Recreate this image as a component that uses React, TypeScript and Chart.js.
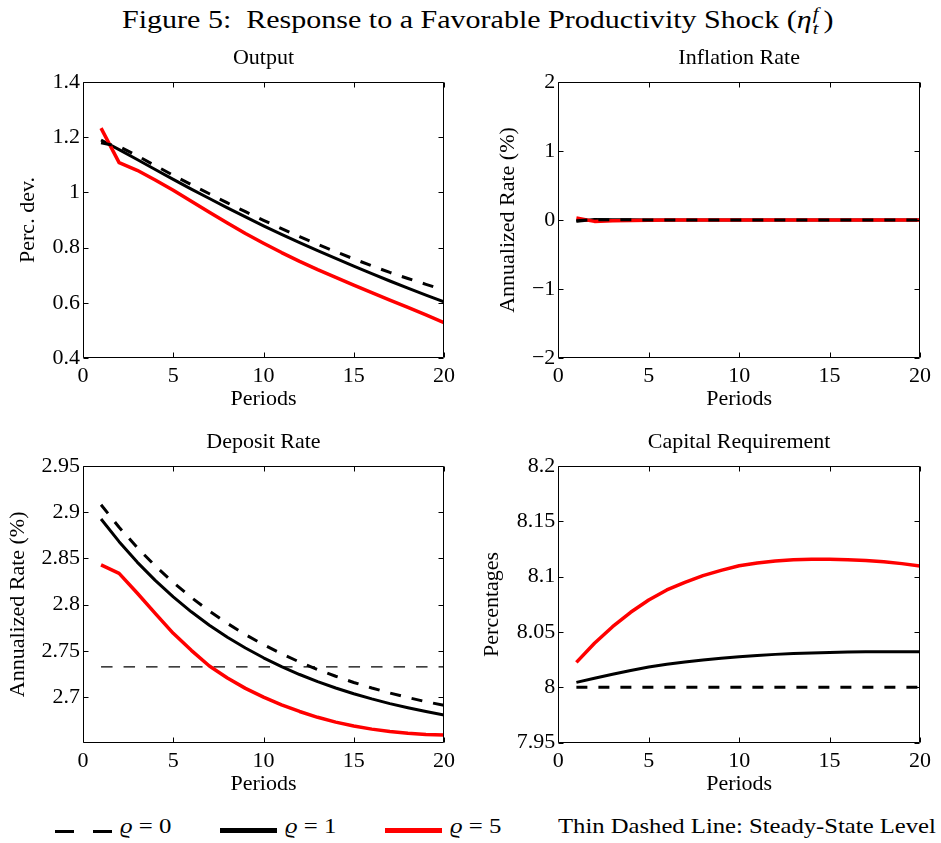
import React, { useEffect, useLayoutEffect, useRef } from "react";
import { Chart, registerables } from "chart.js";

Chart.register(...registerables);

const SERIF = '"Liberation Serif", "Times New Roman", Times, serif';

// ---------- data ----------
const periods = [1, 2, 3, 4, 5, 6, 7, 8, 9, 10, 11, 12, 13, 14, 15, 16, 17, 18, 19, 20];

const outputRho0 = [1.18, 1.166, 1.133, 1.097, 1.062, 1.028, 0.995, 0.962, 0.93, 0.899, 0.869, 0.84, 0.812, 0.785, 0.759, 0.734, 0.71, 0.688, 0.667, 0.646];
const outputRho1 = [1.19, 1.155, 1.119, 1.083, 1.047, 1.012, 0.978, 0.944, 0.911, 0.879, 0.848, 0.818, 0.789, 0.761, 0.733, 0.706, 0.679, 0.653, 0.628, 0.603];
const outputRho5 = [1.233, 1.108, 1.08, 1.045, 1.008, 0.968, 0.928, 0.889, 0.851, 0.816, 0.782, 0.75, 0.72, 0.692, 0.664, 0.637, 0.61, 0.583, 0.556, 0.528];

const inflationRho0 = [-0.01, 0.004, 0.003, 0.002, 0.001, 0, 0, 0, 0, 0, 0, 0, 0, 0, 0, 0, 0, 0, 0, 0];
const inflationRho1 = [-0.02, 0.006, 0.004, 0.002, 0.001, 0, 0, 0, 0, 0, 0, 0, 0, 0, 0, 0, 0, 0, 0, 0];
const inflationRho5 = [0.03, -0.02, -0.012, -0.006, -0.003, -0.001, 0, 0, 0, 0, 0, 0, 0, 0, 0, 0, 0, 0, 0, 0];
const inflationSteady = [0, 0, 0, 0, 0, 0, 0, 0, 0, 0, 0, 0, 0, 0, 0, 0, 0, 0, 0, 0];

const depositRho0 = [2.908, 2.8837, 2.8618, 2.8419, 2.8239, 2.8077, 2.7929, 2.7796, 2.7675, 2.7566, 2.7467, 2.7378, 2.7297, 2.7224, 2.7157, 2.7097, 2.7043, 2.6994, 2.6949, 2.6909];
const depositRho1 = [2.8926, 2.8681, 2.846, 2.8262, 2.8083, 2.7922, 2.7777, 2.7647, 2.753, 2.7424, 2.7329, 2.7243, 2.7166, 2.7097, 2.7035, 2.6979, 2.6928, 2.6883, 2.6842, 2.6805];
const depositRho5 = [2.8429, 2.8338, 2.8125, 2.7905, 2.7689, 2.7505, 2.7335, 2.7205, 2.7093, 2.6998, 2.6915, 2.6843, 2.678, 2.6728, 2.6686, 2.6652, 2.6626, 2.6607, 2.6594, 2.6587];
const depositSteady = [2.7325, 2.7325, 2.7325, 2.7325, 2.7325, 2.7325, 2.7325, 2.7325, 2.7325, 2.7325, 2.7325, 2.7325, 2.7325, 2.7325, 2.7325, 2.7325, 2.7325, 2.7325, 2.7325, 2.7325];

const capitalRho0 = [8, 8, 8, 8, 8, 8, 8, 8, 8, 8, 8, 8, 8, 8, 8, 8, 8, 8, 8, 8];
const capitalRho1 = [8.0045, 8.0082, 8.0118, 8.0153, 8.0184, 8.0209, 8.023, 8.0248, 8.0263, 8.0276, 8.0288, 8.0298, 8.0305, 8.0311, 8.0316, 8.0319, 8.0321, 8.0322, 8.0322, 8.0322];
const capitalRho5 = [8.0226, 8.0398, 8.0548, 8.0678, 8.0789, 8.088, 8.0949, 8.1009, 8.1057, 8.1099, 8.1124, 8.1142, 8.1153, 8.1158, 8.1158, 8.1154, 8.1146, 8.1134, 8.1118, 8.1096];

const xTicks = [0, 5, 10, 15, 20];
const outputTicks = [0.4, 0.6, 0.8, 1, 1.2, 1.4];
const inflationTicks = [-2, -1, 0, 1, 2];
const depositTicks = [2.7, 2.75, 2.8, 2.85, 2.9, 2.95];
const capitalTicks = [7.95, 8, 8.05, 8.1, 8.15, 8.2];

const legendLabels = ["0", "1", "5"];
const steadyStateNote = "Thin Dashed Line: Steady-State Level";

// ---------- helpers ----------
const fmt = (v: number) => String(parseFloat(Number(v).toFixed(3))).replace("-", "\u2212");

const toPoints = (ys: number[]) => periods.map((x, i) => ({ x, y: ys[i] }));

type Series = { data: number[]; kind: "rho0" | "rho1" | "rho5" | "steady" };

const styleFor = (kind: Series["kind"]) => {
  switch (kind) {
    case "rho0":
      return { borderColor: "#000", borderWidth: 3, borderDash: [11, 11], order: 0 };
    case "rho5":
      return { borderColor: "#ff0000", borderWidth: 3.5, borderDash: [], order: 1 };
    case "rho1":
      return { borderColor: "#000", borderWidth: 3, borderDash: [], order: 2 };
    default:
      return { borderColor: "#000", borderWidth: 1.3, borderDash: [11.5, 11], order: 3 };
  }
};

const boxPlugin = {
  id: "matlabBox",
  afterDraw(chart: any) {
    const { ctx, chartArea: a, scales } = chart;
    const p = (v: number) => Math.round(v) + 0.5;
    const L = p(a.left), R = p(a.right - 1), T = p(a.top), B = p(a.bottom - 1);
    ctx.save();
    ctx.strokeStyle = "#000";
    ctx.lineWidth = 1;
    ctx.beginPath();
    ctx.rect(L, T, R - L, B - T);
    const tl = 5;
    for (const t of scales.x.ticks) {
      const x = p(scales.x.getPixelForValue(t.value));
      ctx.moveTo(x, B);
      ctx.lineTo(x, B - tl);
      ctx.moveTo(x, T);
      ctx.lineTo(x, T + tl);
    }
    for (const t of scales.y.ticks) {
      const y = p(scales.y.getPixelForValue(t.value));
      ctx.moveTo(L, y);
      ctx.lineTo(L + tl, y);
      ctx.moveTo(R, y);
      ctx.lineTo(R - tl, y);
    }
    ctx.stroke();
    ctx.restore();
  },
};

type PanelCfg = {
  title: string;
  yLabel: string;
  yMin: number;
  yMax: number;
  yTicks: number[];
  series: Series[];
  left: number;
  top: number;
  w: number;
  h: number;
  yW: number;
  padR: number;
  xH: number;
  titlePadTop: number;
  titlePadBottom: number;
  yTitlePad: number;
  xTitlePadBottom: number;
};

const font = { family: SERIF, size: 22, weight: "normal" as const, lineHeight: 1.2 };

function Panel({ cfg }: { cfg: PanelCfg }) {
  const ref = useRef<HTMLCanvasElement>(null);
  useEffect(() => {
    if (!ref.current) return;
    const chart = new Chart(ref.current, {
      type: "line",
      data: {
        datasets: cfg.series.map((s) => ({
          data: toPoints(s.data),
          ...styleFor(s.kind),
          pointRadius: 0,
          tension: 0,
          fill: false,
          borderCapStyle: "butt",
          borderJoinStyle: "round",
        })) as any,
      },
      options: {
        animation: false,
        responsive: false,
        devicePixelRatio: 1,
        events: [],
        layout: { padding: { left: 0, right: cfg.padR, top: 0, bottom: 0 } },
        plugins: {
          legend: { display: false },
          tooltip: { enabled: false },
          title: {
            display: true,
            text: cfg.title,
            color: "#000",
            font,
            fullSize: false,
            padding: { top: cfg.titlePadTop, bottom: cfg.titlePadBottom },
          },
        },
        scales: {
          x: {
            type: "linear",
            min: 0,
            max: 20,
            afterBuildTicks: (s: any) => {
              s.ticks = xTicks.map((v) => ({ value: v }));
            },
            afterFit: (s: any) => {
              s.height = cfg.xH;
            },
            grid: { display: false, drawTicks: false },
            border: { display: false },
            ticks: {
              color: "#000",
              font,
              padding: 5,
              maxRotation: 0,
              autoSkip: false,
              callback: (v: any) => fmt(v),
            },
            title: {
              display: true,
              text: "Periods",
              color: "#000",
              font,
              padding: { top: 0, bottom: cfg.xTitlePadBottom },
            },
          },
          y: {
            type: "linear",
            min: cfg.yMin,
            max: cfg.yMax,
            afterBuildTicks: (s: any) => {
              s.ticks = cfg.yTicks.map((v) => ({ value: v }));
            },
            afterFit: (s: any) => {
              s.width = cfg.yW;
            },
            grid: { display: false, drawTicks: false },
            border: { display: false },
            ticks: {
              color: "#000",
              font,
              padding: 3,
              autoSkip: false,
              callback: (v: any) => fmt(v),
            },
            title: {
              display: true,
              text: cfg.yLabel,
              color: "#000",
              font,
              padding: { top: cfg.yTitlePad, bottom: 0 },
            },
          },
        },
      } as any,
      plugins: [boxPlugin],
    });
    return () => chart.destroy();
  }, [cfg]);
  return (
    <canvas
      ref={ref}
      width={cfg.w}
      height={cfg.h}
      style={{ position: "absolute", left: cfg.left, top: cfg.top, width: cfg.w, height: cfg.h }}
    />
  );
}

const panels: PanelCfg[] = [
  {
    title: "Output",
    yLabel: "Perc. dev.",
    yMin: 0.4,
    yMax: 1.4,
    yTicks: outputTicks,
    series: [
      { data: outputRho0, kind: "rho0" },
      { data: outputRho1, kind: "rho1" },
      { data: outputRho5, kind: "rho5" },
    ],
    left: 0, top: 36, w: 470, h: 384, yW: 83, padR: 26, xH: 62,
    titlePadTop: 8.8, titlePadBottom: 10.8, yTitlePad: 15.1, xTitlePadBottom: 7.8,
  },
  {
    title: "Inflation Rate",
    yLabel: "Annualized Rate (%)",
    yMin: -2,
    yMax: 2,
    yTicks: inflationTicks,
    series: [
      { data: inflationSteady, kind: "steady" },
      { data: inflationRho0, kind: "rho0" },
      { data: inflationRho1, kind: "rho1" },
      { data: inflationRho5, kind: "rho5" },
    ],
    left: 470, top: 36, w: 471, h: 384, yW: 88.3, padR: 21, xH: 62,
    titlePadTop: 8.8, titlePadBottom: 10.8, yTitlePad: 25.1, xTitlePadBottom: 7.8,
  },
  {
    title: "Deposit Rate",
    yLabel: "Annualized Rate (%)",
    yMin: 2.6505,
    yMax: 2.95,
    yTicks: depositTicks,
    series: [
      { data: depositSteady, kind: "steady" },
      { data: depositRho0, kind: "rho0" },
      { data: depositRho1, kind: "rho1" },
      { data: depositRho5, kind: "rho5" },
    ],
    left: 0, top: 420, w: 470, h: 380, yW: 83, padR: 26, xH: 57.3,
    titlePadTop: 9.3, titlePadBottom: 10.3, yTitlePad: 4.8, xTitlePadBottom: 2.8,
  },
  {
    title: "Capital Requirement",
    yLabel: "Percentages",
    yMin: 7.95,
    yMax: 8.2,
    yTicks: capitalTicks,
    series: [
      { data: capitalRho0, kind: "rho0" },
      { data: capitalRho1, kind: "rho1" },
      { data: capitalRho5, kind: "rho5" },
    ],
    left: 470, top: 420, w: 471, h: 380, yW: 88.3, padR: 21, xH: 57.3,
    titlePadTop: 9.3, titlePadBottom: 10.3, yTitlePad: 9.3, xTitlePadBottom: 2.8,
  },
];

function FitText({
  left,
  top,
  width,
  fontSize,
  children,
}: {
  left: number;
  top: number;
  width: number;
  fontSize: number;
  children: React.ReactNode;
}) {
  const ref = useRef<HTMLDivElement>(null);
  useLayoutEffect(() => {
    const el = ref.current;
    if (!el) return;
    el.style.transform = "none";
    const w = el.offsetWidth;
    if (w > 0) el.style.transform = `scaleX(${width / w})`;
  }, [width]);
  return (
    <div
      ref={ref}
      style={{
        position: "absolute",
        left,
        top,
        fontSize,
        lineHeight: `${fontSize}px`,
        whiteSpace: "nowrap",
        transformOrigin: "0 0",
        fontFamily: SERIF,
        color: "#000",
      }}
    >
      {children}
    </div>
  );
}

const legendBar = (left: number, top: number, width: number, height: number, color: string) => (
  <div style={{ position: "absolute", left, top, width, height, background: color }} />
);

export default function App() {
  return (
    <div
      style={{
        position: "absolute",
        left: 0,
        top: 0,
        width: 941,
        height: 843,
        background: "#fff",
        overflow: "hidden",
        fontFamily: SERIF,
      }}
    >
      <FitText left={122} top={3} width={711} fontSize={25}>
        {"Figure 5:\u2002Response to a Favorable Productivity Shock ("}
        <i>η</i>
        <span style={{ display: "inline-block", position: "relative", width: 10, height: 25 }}>
          <i style={{ position: "absolute", left: 1, top: 2, fontSize: 17, lineHeight: "17px" }}>f</i>
          <i style={{ position: "absolute", left: 1, top: 17, fontSize: 17, lineHeight: "17px" }}>t</i>
        </span>
        {")"}
      </FitText>

      {panels.map((cfg, i) => (
        <Panel key={i} cfg={cfg} />
      ))}

      {legendBar(55, 830, 19, 3, "#000")}
      {legendBar(93, 830, 19, 3, "#000")}
      <FitText left={120} top={816.4} width={52} fontSize={21}>
        <i>ϱ</i>
        {" = " + legendLabels[0]}
      </FitText>
      {legendBar(220, 827.5, 57, 5, "#000")}
      <FitText left={285} top={816.4} width={52} fontSize={21}>
        <i>ϱ</i>
        {" = " + legendLabels[1]}
      </FitText>
      {legendBar(385, 827.5, 57, 5, "#ff0000")}
      <FitText left={450} top={816.4} width={52} fontSize={21}>
        <i>ϱ</i>
        {" = " + legendLabels[2]}
      </FitText>
      <FitText left={558} top={816.4} width={378} fontSize={21}>
        {steadyStateNote}
      </FitText>
    </div>
  );
}
